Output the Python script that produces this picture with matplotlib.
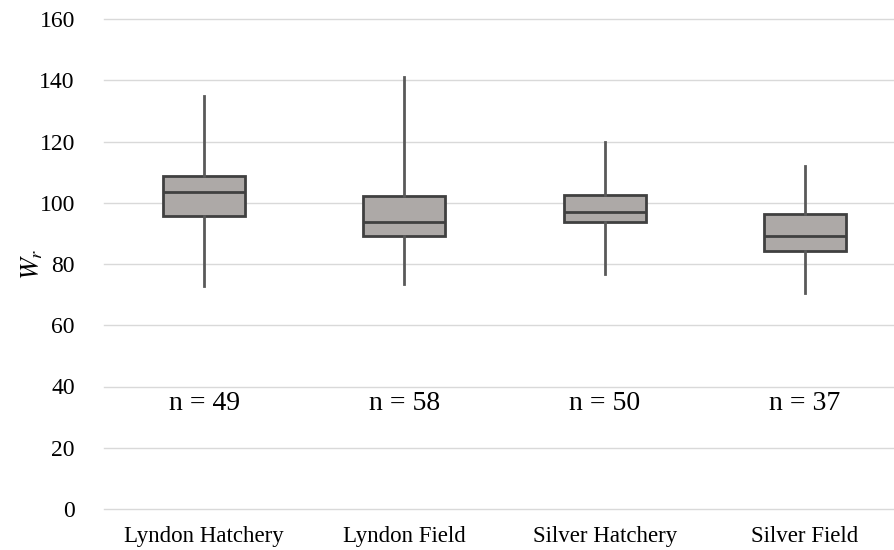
import matplotlib
matplotlib.use("Agg")
import matplotlib.pyplot as plt

categories = ["Lyndon Hatchery", "Lyndon Field", "Silver Hatchery", "Silver Field"]
whisker_low = [72.9, 73.5, 76.7, 70.4]
q1 = [95.8, 89.0, 93.6, 84.3]
median = [103.4, 93.6, 97.1, 89.2]
q3 = [108.8, 102.1, 102.5, 96.3]
whisker_high = [135.0, 141.0, 119.7, 112.0]
n_labels = ["n = 49", "n = 58", "n = 50", "n = 37"]
y_ticks = [0, 20, 40, 60, 80, 100, 120, 140, 160]

plt.rcParams['font.family'] = ['Liberation Serif', 'DejaVu Serif']
plt.rcParams['mathtext.fontset'] = 'stix'

fig = plt.figure(figsize=(8.94, 5.5), dpi=100)
ax = fig.add_axes([104/894, 41/550, 1 - 104/894, 490/550])

stats = []
for i, c in enumerate(categories):
    stats.append(dict(label=c, whislo=whisker_low[i], q1=q1[i], med=median[i],
                      q3=q3[i], whishi=whisker_high[i], fliers=[]))

positions = list(range(len(categories)))
ax.bxp(stats, positions=positions, widths=0.41, patch_artist=True, showcaps=False,
       boxprops=dict(facecolor="#ADA9A7", edgecolor="#404040", linewidth=2),
       medianprops=dict(color="#404040", linewidth=2),
       whiskerprops=dict(color="#595959", linewidth=2), zorder=3)

for i, t in enumerate(n_labels):
    ax.text(positions[i], 34.5, t, ha="center", va="center", fontsize=20, color="#000000")

ax.set_ylim(0, 160)
ax.set_xlim(-0.5, 3.445)
ax.set_yticks(y_ticks)
ax.set_xticks(positions)
ax.set_xticklabels(categories)
ax.yaxis.grid(True, color="#D9D9D9", linewidth=1, zorder=0)
ax.set_axisbelow(True)
for s in ax.spines.values():
    s.set_visible(False)
ax.tick_params(axis="y", length=0, labelsize=17, colors="#000000", pad=21)
ax.tick_params(axis="x", length=0, labelsize=16.5, colors="#000000", pad=12)
ax.set_ylabel(r"$W_r$", fontsize=19, labelpad=-4)
for gl in ax.get_ygridlines():
    gl.set_clip_on(False)

fig.savefig("out.png", dpi=100)
